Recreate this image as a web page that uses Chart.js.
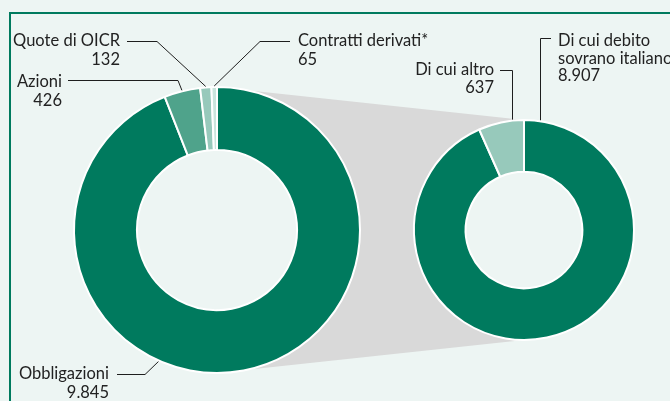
<!DOCTYPE html>
<html>
<head>
<meta charset="utf-8">
<script src="https://cdn.jsdelivr.net/npm/chart.js@4.4.1/dist/chart.umd.min.js"></script>
<style>
  html, body { margin: 0; padding: 0; background: #edf5f3; }
  #wrap { position: relative; width: 670px; height: 401px; overflow: hidden; background: #edf5f3; }
  #frame { position: absolute; left: 9px; top: 12px; width: 700px; height: 420px;
           border-left: 2px solid #007a5e; border-top: 2px solid #007a5e; }
  canvas { position: absolute; left: 0; top: 0; }
</style>
</head>
<body>
<div id="wrap">
  <div id="frame"></div>
  <canvas id="cvDx" width="670" height="401"></canvas>
  <canvas id="cvSx" width="670" height="401"></canvas>
</div>
<script>
// ---- dati ----
const categorie = ['Obbligazioni', 'Azioni', 'Quote di OICR', 'Contratti derivati*'];
const valori = [9845, 426, 132, 65];
const categorieObbl = [['Di cui debito', 'sovrano italiano'], 'Di cui altro'];
const valoriObbl = [8907, 637];

const coloriSx = ['#007a5e', '#4fa38b', '#97c9bb', '#cae5dd'];
const coloriDx = ['#007a5e', '#97c9bb'];
const SFONDO = '#edf5f3';
const FONT = '16.5px Lato, "Noto Sans", sans-serif';

const formatta = (v) => String(v).replace(/\B(?=(\d{3})+(?!\d))/g, '.');

// richiami: testo + linea di collegamento all'arco
const richiami = {
  id: 'richiami',
  afterDatasetsDraw(chart, args, opts) {
    const ctx = chart.ctx;
    const meta = chart.getDatasetMeta(0);
    const labels = chart.data.labels;
    const values = chart.data.datasets[0].data;
    ctx.save();
    ctx.font = FONT;
    ctx.fillStyle = '#222222';
    ctx.strokeStyle = '#1e1e1e';
    ctx.lineWidth = 1;
    ctx.textBaseline = 'alphabetic';
    opts.items.forEach(it => {
      const arc = meta.data[it.index];
      const r = arc.outerRadius + 1;
      let ex, ey;
      if (it.verticale) {
        ex = it.gomito[0];
        ey = arc.y - Math.sqrt(r * r - (ex - arc.x) ** 2);
      } else {
        const a = it.angolo != null
          ? (it.angolo - 90) * Math.PI / 180
          : (arc.startAngle + arc.endAngle) / 2;
        ex = arc.x + r * Math.cos(a);
        ey = arc.y + r * Math.sin(a);
      }
      ctx.beginPath();
      ctx.moveTo(it.inizio, it.gomito[1]);
      ctx.lineTo(it.gomito[0], it.gomito[1]);
      ctx.lineTo(ex, ey);
      ctx.stroke();

      const righe = [].concat(labels[it.index], formatta(values[it.index]));
      ctx.textAlign = it.allinea;
      righe.forEach((t, i) => ctx.fillText(t, it.x, it.y + i * opts.interlinea));
    });
    ctx.restore();
  }
};

// riempie il foro centrale (e per il grafico di destra disegna prima il raccordo grigio)
const foro = {
  id: 'foro',
  beforeDatasetsDraw(chart, args, opts) {
    const ctx = chart.ctx;
    const b = chart.getDatasetMeta(0).data[0];
    ctx.save();
    if (opts.sorgente) {
      const a = opts.sorgente().getDatasetMeta(0).data[0];
      const ra = a.outerRadius, rb = b.outerRadius;
      ctx.fillStyle = '#d9d9d9';
      ctx.beginPath();
      ctx.moveTo(a.x, a.y - ra);
      ctx.lineTo(b.x, b.y - rb);
      ctx.lineTo(b.x, b.y + rb);
      ctx.lineTo(a.x, a.y + ra);
      ctx.closePath();
      ctx.fill();
    }
    ctx.fillStyle = SFONDO;
    ctx.beginPath();
    ctx.arc(b.x, b.y, b.innerRadius, 0, Math.PI * 2);
    ctx.fill();
    ctx.restore();
  }
};

const graficoSx = new Chart(document.getElementById('cvSx'), {
  type: 'doughnut',
  data: {
    labels: categorie,
    datasets: [{ data: valori, backgroundColor: coloriSx, borderColor: '#ffffff', borderWidth: 2 }]
  },
  options: {
    responsive: false,
    animation: false,
    cutout: '56%',
    layout: { padding: { left: 73, right: 309, top: 86, bottom: 27 } },
    plugins: {
      legend: { display: false },
      tooltip: { enabled: false },
      foro: {},
      richiami: {
        interlinea: 18.5,
        items: [
          { index: 0, x: 109, y: 379, allinea: 'right', inizio: 117, gomito: [145, 374.5], angolo: 204 },
          { index: 1, x: 62, y: 87, allinea: 'right', inizio: 68, gomito: [178, 80.5] },
          { index: 2, x: 120, y: 46, allinea: 'right', inizio: 127, gomito: [157, 41.5] },
          { index: 3, x: 298, y: 46, allinea: 'left', inizio: 290, gomito: [260, 41.5] }
        ]
      }
    }
  },
  plugins: [foro, richiami]
});

new Chart(document.getElementById('cvDx'), {
  type: 'doughnut',
  data: {
    labels: categorieObbl,
    datasets: [{ data: valoriObbl, backgroundColor: coloriDx, borderColor: '#ffffff', borderWidth: 2 }]
  },
  options: {
    responsive: false,
    animation: false,
    cutout: '53%',
    layout: { padding: { left: 413, right: 35, top: 119, bottom: 60 } },
    plugins: {
      legend: { display: false },
      tooltip: { enabled: false },
      foro: { sorgente: () => graficoSx },
      richiami: {
        interlinea: 17.5,
        items: [
          { index: 0, x: 558, y: 46, allinea: 'left', inizio: 551, gomito: [540.5, 38.5], verticale: true },
          { index: 1, x: 494, y: 75, allinea: 'right', inizio: 500, gomito: [512.5, 70.5], verticale: true }
        ]
      }
    }
  },
  plugins: [foro, richiami]
});
</script>
</body>
</html>
